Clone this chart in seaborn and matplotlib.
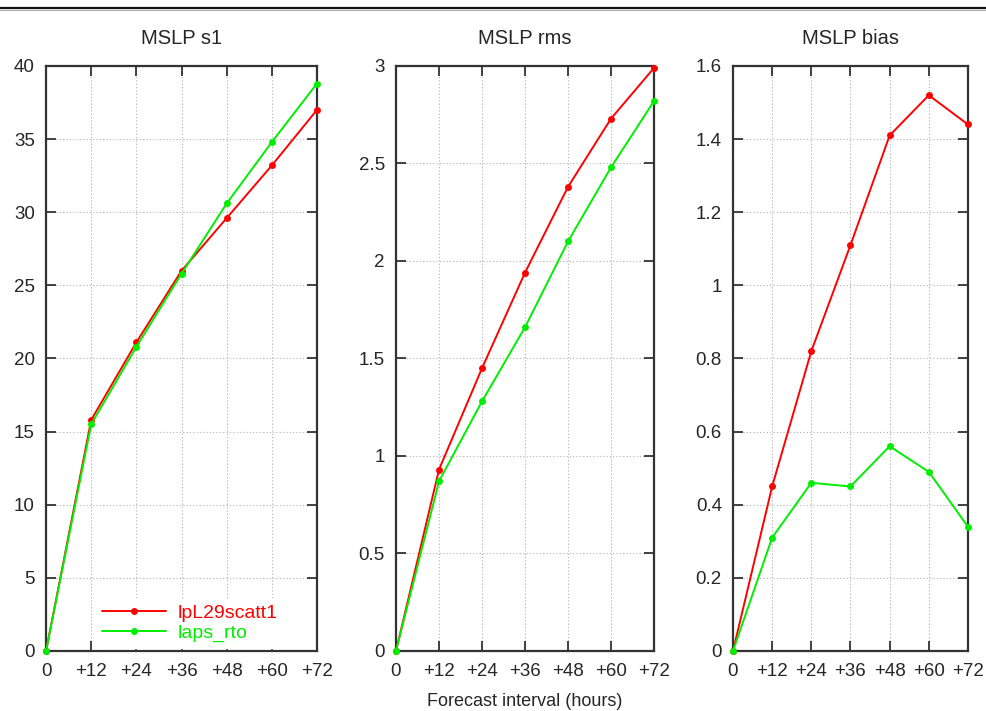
import numpy as np
import pandas as pd
import seaborn as sns
import matplotlib.pyplot as plt
from matplotlib.lines import Line2D
from matplotlib.ticker import FuncFormatter

hours = [0, 12, 24, 36, 48, 60, 72]
hour_labels = ['0', '+12', '+24', '+36', '+48', '+60', '+72']
runs = ['lpL29scatt1', 'laps_rto']

s1_red = [0, 15.8, 21.1, 26.0, 29.6, 33.2, 37.0]
s1_green = [0, 15.5, 20.8, 25.8, 30.6, 34.8, 38.8]
rms_red = [0, 0.93, 1.45, 1.94, 2.38, 2.73, 2.99]
rms_green = [0, 0.87, 1.28, 1.66, 2.10, 2.48, 2.82]
bias_red = [0, 0.45, 0.82, 1.11, 1.41, 1.52, 1.44]
bias_green = [0, 0.31, 0.46, 0.45, 0.56, 0.49, 0.34]

titles = ['MSLP s1', 'MSLP rms', 'MSLP bias']
ylims = [40, 3, 1.6]
ysteps = [5, 0.5, 0.2]

sns.set_style("ticks")
plt.rcParams['font.family'] = ['Liberation Sans', 'DejaVu Sans']

fig = plt.figure(figsize=(9.86, 7.11), dpi=100)
boxes = [[0.0467, 0.0844, 0.2748, 0.8228],
         [0.4016, 0.0844, 0.2617, 0.8228],
         [0.7434, 0.0844, 0.2383, 0.8228]]
palette = {'lpL29scatt1': '#ff0000', 'laps_rto': '#00ee00'}
series = [(s1_red, s1_green), (rms_red, rms_green), (bias_red, bias_green)]

for i in range(3):
    ax = fig.add_axes(boxes[i])
    red, green = series[i]
    df = pd.DataFrame({
        'hour': hours * 2,
        'value': red + green,
        'run': [runs[0]] * 7 + [runs[1]] * 7,
    })
    sns.lineplot(data=df, x='hour', y='value', hue='run', palette=palette,
                 marker='o', markersize=5, markeredgewidth=0, linewidth=1.4,
                 ax=ax, legend=(i == 0), clip_on=False, zorder=3)
    ax.set_xlim(0, 72)
    ax.set_ylim(0, ylims[i])
    ax.set_xticks(hours)
    ax.set_xticklabels(hour_labels)
    ax.set_yticks(np.arange(0, ylims[i] + ysteps[i] / 2, ysteps[i]))
    ax.yaxis.set_major_formatter(FuncFormatter(lambda v, p: '%g' % round(v, 2)))
    ax.grid(True, color='#b0b0b0', linestyle=(0, (1, 2)), linewidth=0.8)
    ax.tick_params(direction='in', length=7, width=1.3, color='#333333',
                   top=True, right=True, labelsize=13.5)
    ax.tick_params(axis='x', pad=9)
    ax.tick_params(axis='y', pad=8)
    for sp in ax.spines.values():
        sp.set_visible(True)
        sp.set_color('#333333')
        sp.set_linewidth(1.6)
    ax.set_title(titles[i], fontsize=14.5, pad=16)
    ax.set_xlabel('')
    ax.set_ylabel('')
    if i == 0:
        leg = ax.legend(loc='lower left', bbox_to_anchor=(0.15, -0.012),
                        frameon=True, framealpha=1, edgecolor='white',
                        fontsize=14, handlelength=3.3, handletextpad=0.6,
                        labelspacing=0.15, borderpad=0.3)
        for txt, r in zip(leg.get_texts(), runs):
            txt.set_color(palette[r])
    if i == 1:
        ax.set_xlabel('Forecast interval (hours)', fontsize=13, labelpad=9)

fig.add_artist(Line2D([0, 1], [0.9887, 0.9887], color='#111111', linewidth=1.6))
fig.add_artist(Line2D([0, 1], [0.9855, 0.9855], color='#aaaaaa', linewidth=0.8))

fig.savefig('out.png', dpi=100)
